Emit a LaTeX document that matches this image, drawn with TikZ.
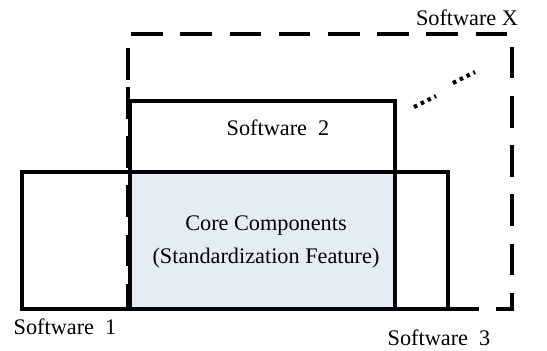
\documentclass[tikz,border=0pt]{standalone}
\usepackage{fontspec}
\setmainfont{Liberation Serif}
\usepackage{xcolor}
\usetikzlibrary{calc}
\definecolor{coreblue}{RGB}{230,236,246}
\tikzset{
  solidbox/.style={draw=black,line width=3.2pt},
  dashbox/.style={draw=black,line width=3.2pt,dash pattern=on 27pt off 15pt},
  softlabel/.style={font=\fontsize{19}{22}\selectfont,inner sep=0pt},
  moredots/.style={line width=3.5pt,dash pattern=on 3pt off 3.5pt}
}
\begin{document}
\begin{tikzpicture}[x=0.03cm,y=-0.03cm]
    \useasboundingbox (0,0) rectangle (547,350);
    % shared core
    \fill[coreblue] (130,172) rectangle (395,309);
    % software X
    \draw[dashbox] (128,80) -- (128,34) -- (512,34) -- (512,309) -- (128,309) -- cycle;
    % software 1, 2, 3
    \draw[solidbox] (22,172) rectangle (395,309);
    \draw[solidbox] (130,101) rectangle (395,309);
    \draw[solidbox] (130,172) rectangle (448,309);
    % further software
    \draw[moredots] (414,107) -- (436,96);
    \draw[moredots] (453,83) -- (475,72);
    \node[softlabel] (swx) at (467,18) {Software X};
    \node[softlabel] (sw2) at (278,128) {Software\ \ 2};
    \node[softlabel,align=center] (core) at (266,242) {Core Components\\[6pt](Standardization Feature)};
    \node[softlabel] (sw1) at (65,327) {Software\ \ 1};
    \node[softlabel] (sw3) at (439,338) {Software\ \ 3};
\end{tikzpicture}
\end{document}
